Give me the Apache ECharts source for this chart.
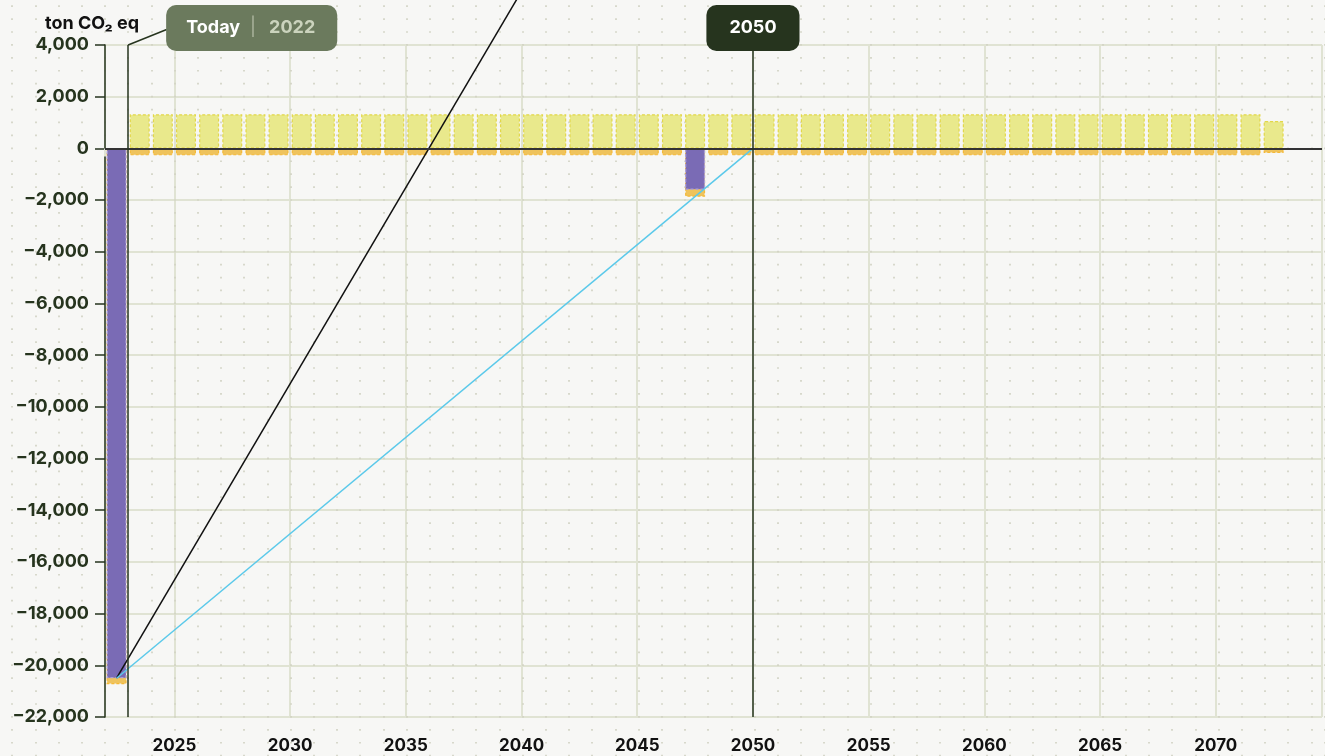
<!DOCTYPE html>
<html>
<head>
<meta charset="utf-8">
<script src="https://cdn.jsdelivr.net/npm/echarts@6/dist/echarts.min.js"></script>
<style>
  html, body { margin: 0; padding: 0; background: #f7f7f5; }
  #chart { width: 1325px; height: 756px; }
</style>
</head>
<body>
<div id="chart"></div>
<script>
// yearly values, ton CO2 eq
const years = [2022, 2023, 2024, 2025, 2026, 2027, 2028, 2029, 2030, 2031, 2032, 2033, 2034, 2035, 2036, 2037,
    2038, 2039, 2040, 2041, 2042, 2043, 2044, 2045, 2046, 2047, 2048, 2049, 2050, 2051, 2052, 2053, 2054,
    2055, 2056, 2057, 2058, 2059, 2060, 2061, 2062, 2063, 2064, 2065, 2066, 2067, 2068, 2069, 2070, 2071, 2072];
const emissions = [null, 1320, 1320, 1320, 1320, 1320, 1320, 1320, 1320, 1320, 1320, 1320, 1320, 1320, 1320, 1320,
    1320, 1320, 1320, 1320, 1320, 1320, 1320, 1320, 1320, 1320, 1320, 1320, 1320, 1320, 1320, 1320, 1320,
    1320, 1320, 1320, 1320, 1320, 1320, 1320, 1320, 1320, 1320, 1320, 1320, 1320, 1320, 1320, 1320, 1320, 1060];
const removals = [-20500, null, null, null, null, null, null, null, null, null, null, null, null, null, null, null,
    null, null, null, null, null, null, null, null, null, -1600, null, null, null, null, null, null, null,
    null, null, null, null, null, null, null, null, null, null, null, null, null, null, null, null, null, null];
const otherRemovals = [-230, -270, -270, -270, -270, -270, -270, -270, -270, -270, -270, -270, -270, -270, -270, -270,
    -270, -270, -270, -270, -270, -270, -270, -270, -270, -270, -270, -270, -270, -270, -270, -270, -270,
    -270, -270, -270, -270, -270, -270, -270, -270, -270, -270, -270, -270, -270, -270, -270, -270, -270, -180];
const trajectoryFast = [[2022.5, -20500], [2040, 6080]];
const trajectory2050 = [[2022.5, -20500], [2050, 0]];
const todayYear = 2023;
const todayLabel = '2022';
const targetYear = 2050;

const darkGreen = '#26341e';
const gridColor = '#e0e3d3';
const font = 'Inter, "Noto Sans", sans-serif';

// bars sit in the middle of their year
function toPoints(values) {
    return years.map((y, i) => [y + 0.5, values[i]]);
}
// other removals are drawn below the main removals (bars overlap, purple on top)
const removalsTotal = otherRemovals.map((v, i) => v + (removals[i] || 0));

const chart = echarts.init(document.getElementById('chart'));

const option = {
    backgroundColor: '#f7f7f5',
    animation: false,
    title: {
        text: 'ton CO₂ eq',
        left: 40,
        top: 10,
        textStyle: { fontFamily: font, fontSize: 18, fontWeight: 'bold', color: '#111' }
    },
    grid: [
        { left: 105, right: 0, top: 45, bottom: 39 },
        // background dot pattern, same scale as the main grid
        { left: 12.2, right: 0, top: 5.3, bottom: 0 }
    ],
    xAxis: [
        {
            type: 'value',
            gridIndex: 0,
            min: 2022,
            max: 2074.59,
            splitNumber: 10,
            axisLine: { show: false },
            axisTick: { show: true, length: 8, lineStyle: { color: gridColor, width: 2 } },
            axisLabel: {
                margin: 20,
                fontFamily: font,
                fontSize: 17,
                fontWeight: 'bold',
                color: '#111',
                formatter: v => (v % 5 === 0 ? String(v) : '')
            },
            splitLine: { show: true, lineStyle: { color: gridColor, width: 2 } }
        },
        {
            type: 'value',
            gridIndex: 1,
            min: 2018,
            max: 2074.59,
            interval: 1,
            axisLine: { show: false },
            axisTick: { show: false },
            axisLabel: { show: false },
            splitLine: { show: true, lineStyle: { color: '#d2d3c4', width: 1.7, type: [1.7, 11.223] } }
        }
    ],
    yAxis: [
        {
            type: 'value',
            gridIndex: 0,
            min: -22000,
            max: 4000,
            interval: 2000,
            axisLine: { show: true, lineStyle: { color: darkGreen, width: 1.5 } },
            axisTick: { show: true, length: 10, lineStyle: { color: darkGreen, width: 1.5 } },
            axisLabel: {
                margin: 16,
                fontFamily: font,
                fontSize: 18,
                fontWeight: 'bold',
                color: darkGreen,
                formatter: v => (v < 0 ? '−' : '') + Math.abs(v).toLocaleString('en-US')
            },
            splitLine: { show: true, lineStyle: { color: gridColor, width: 2 } }
        },
        { type: 'value', gridIndex: 1, show: false, min: -23500, max: 5500 }
    ],
    series: [
        {
            name: 'Other removals',
            type: 'bar',
            barWidth: 20,
            barGap: '-100%',
            data: toPoints(removalsTotal),
            itemStyle: { color: '#efc35c', borderColor: '#f5b936', borderWidth: 1.2, borderType: [3, 2] }
        },
        {
            name: 'Removals',
            type: 'bar',
            barWidth: 20,
            barGap: '-100%',
            data: toPoints(removals),
            itemStyle: { color: '#7a6bb5', borderColor: '#a89edb', borderWidth: 1.2, borderType: [3, 2] }
        },
        {
            name: 'Emissions',
            type: 'bar',
            barWidth: 20,
            barGap: '-100%',
            data: toPoints(emissions),
            itemStyle: { color: '#e9e98c', borderColor: '#e2d74a', borderWidth: 1.2, borderType: [3, 2] }
        },
        {
            name: 'Fast trajectory',
            type: 'line',
            data: trajectoryFast,
            clip: false,
            showSymbol: false,
            z: 4,
            lineStyle: { color: '#111', width: 1.5 }
        },
        {
            name: 'Trajectory 2050',
            type: 'line',
            data: trajectory2050,
            showSymbol: false,
            z: 4,
            lineStyle: { color: '#5bc9ea', width: 1.5 },
            markLine: {
                silent: true,
                symbol: 'none',
                label: { show: false },
                data: [
                    { yAxis: 0, lineStyle: { color: '#333', width: 2, type: 'solid' } },
                    { xAxis: todayYear, lineStyle: { color: darkGreen, width: 1.5, type: 'solid' } },
                    { xAxis: targetYear, lineStyle: { color: darkGreen, width: 1.5, type: 'solid' } }
                ]
            }
        }
    ]
};

chart.setOption(option);

// tags above the plot, placed from the axis scale
const todayPt = chart.convertToPixel({ xAxisIndex: 0, yAxisIndex: 0 }, [todayYear, 4000]);
const targetPt = chart.convertToPixel({ xAxisIndex: 0, yAxisIndex: 0 }, [targetYear, 4000]);
const tagFont = { fontFamily: font, fontSize: 18, fontWeight: 'bold' };

chart.setOption({
    graphic: [
        {
            type: 'line',
            z: 10,
            shape: { x1: todayPt[0], y1: todayPt[1], x2: todayPt[0] + 38.5, y2: 29.5 },
            style: { stroke: darkGreen, lineWidth: 1.5 }
        },
        {
            type: 'text',
            z: 11,
            x: todayPt[0] + 38,
            y: 5,
            style: {
                text: '{a|Today}{b||}{c|' + todayLabel + '}',
                backgroundColor: '#6b7a5d',
                borderRadius: 10,
                padding: [12, 22, 12, 20],
                verticalAlign: 'top',
                rich: {
                    a: Object.assign({ fill: '#ffffff', lineHeight: 22 }, tagFont),
                    b: { fill: '#aeb7a0', fontFamily: font, fontSize: 18, padding: [0, 13, 0, 10], lineHeight: 22 },
                    c: Object.assign({ fill: '#cbd3bd', lineHeight: 22 }, tagFont)
                }
            }
        },
        {
            type: 'text',
            z: 11,
            x: targetPt[0],
            y: 5,
            style: Object.assign({
                text: String(targetYear),
                fill: '#ffffff',
                backgroundColor: darkGreen,
                borderRadius: 10,
                padding: [12, 23],
                align: 'center',
                verticalAlign: 'top',
                lineHeight: 22
            }, tagFont)
        }
    ]
});
</script>
</body>
</html>
